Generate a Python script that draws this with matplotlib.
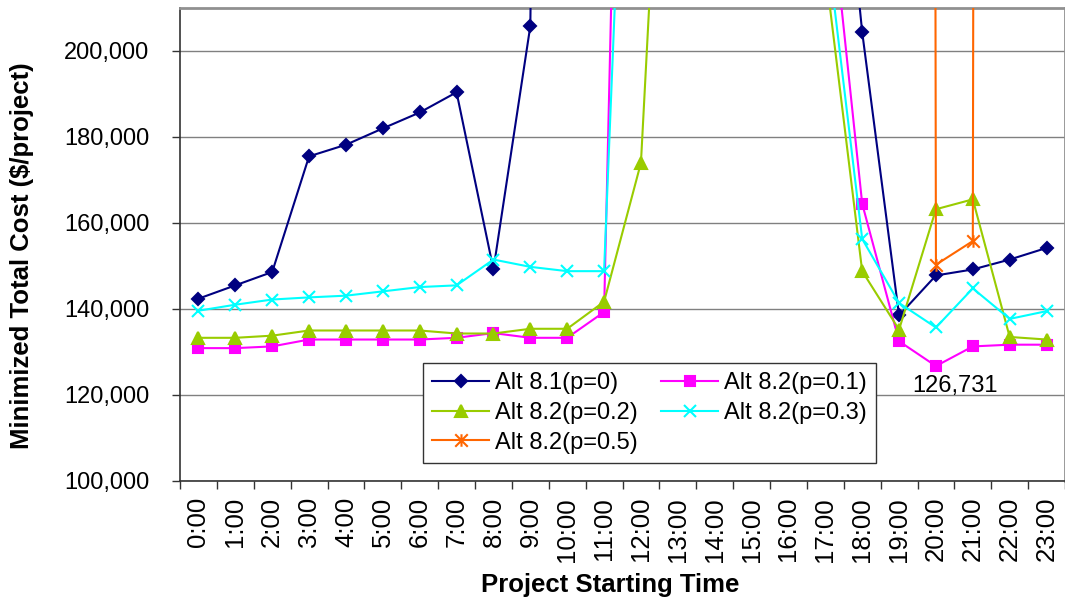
import numpy as np
import matplotlib
matplotlib.use("Agg")
import matplotlib.pyplot as plt
from matplotlib.path import Path
from matplotlib.ticker import FuncFormatter, FixedLocator

plt.rcParams["font.family"] = ["Liberation Sans", "DejaVu Sans"]

hours = [f"{h}:00" for h in range(24)]

# values; points in the 10:00-17:00 band sit far above the
# visible range, so those are rough guesses from the slope of the lines
alt81_p0 = [142400, 145500, 148600, 175500, 178200, 182000, 185700, 190400,
            149200, 205800, 900000, 800000, 700000, 600000, 500000, 400000,
            350000, 290000, 204400, 138500, 147800, 149200, 151500, 154200]
alt82_p01 = [130900, 130900, 131300, 132900, 132900, 132900, 132900, 133300,
             134400, 133300, 133300, 139300, 510000, 500000, 450000, 400000,
             300000, 246000, 164500, 132500, 126731, 131300, 131700, 131700]
alt82_p02 = [133300, 133300, 133800, 135000, 135000, 135000, 135000, 134300,
             134300, 135400, 135400, 141700, 174000, 337000, 400000, 350000,
             300000, 219000, 148800, 135200, 163200, 165500, 133500, 132900]
alt82_p03 = [139600, 141000, 142200, 142700, 143100, 144100, 145100, 145500,
             151500, 149800, 148800, 148800, 361000, 400000, 400000, 350000,
             300000, 228000, 156300, 141400, 135700, 144800, 137700, 139500]
alt82_p05 = [np.nan] * 19 + [5000000, 150300, 155800, 5000000, np.nan]

min_label = 126731

star = Path([(-1, -1), (1, 1), (-1, 1), (1, -1), (0, -1), (0, 1)],
            [Path.MOVETO, Path.LINETO, Path.MOVETO, Path.LINETO, Path.MOVETO, Path.LINETO])

series = [
    ("Alt 8.1(p=0)", alt81_p0, "#000080", "D", 6),
    ("Alt 8.2(p=0.1)", alt82_p01, "#FF00FF", "s", 6.5),
    ("Alt 8.2(p=0.2)", alt82_p02, "#99CC00", "^", 9),
    ("Alt 8.2(p=0.3)", alt82_p03, "#00FFFF", "x", 9),
    ("Alt 8.2(p=0.5)", alt82_p05, "#FF6600", star, 9),
]

fig = plt.figure(figsize=(10.65, 6.04), dpi=100)
ax = fig.add_axes([180 / 1065, 123 / 604, 885 / 1065, 473 / 604])

x = np.arange(len(hours))
handles = []
for label, vals, color, marker, ms in series:
    h, = ax.plot(x, vals, color=color, lw=1.5, marker=marker, markersize=ms,
                 markerfacecolor=color, markeredgecolor=color, markeredgewidth=1.5,
                 label=label, zorder=3)
    handles.append(h)

ax.set_xlim(-0.5, len(hours) - 0.5)
ax.set_ylim(100000, 210000)

ax.set_yticks(np.arange(100000, 200001, 20000))
ax.yaxis.set_major_formatter(FuncFormatter(lambda v, p: f"{int(v):,}"))
ax.tick_params(axis="y", direction="out", length=6, width=1, color="#333333",
               labelsize=17, pad=16)
ax.grid(axis="y", color="#808080", lw=1, zorder=1)

ax.set_xticks(x)
ax.set_xticklabels(hours, rotation=90)
ax.xaxis.set_minor_locator(FixedLocator(np.arange(-0.5, len(hours), 1.0)))
ax.tick_params(axis="x", which="major", length=0, labelsize=18.5, pad=11.5)
ax.tick_params(axis="x", which="minor", direction="out", length=6, width=1, color="#333333")

for s in ["left", "bottom"]:
    ax.spines[s].set_color("#333333")
    ax.spines[s].set_linewidth(1.2)
for s in ["top", "right"]:
    ax.spines[s].set_color("#909090")
    ax.spines[s].set_linewidth(2)

ax.annotate(f"{min_label:,}", xy=(20, min_label), xytext=(14, -14),
            textcoords="offset points", ha="center", va="center", fontsize=17)

order = [0, 2, 4, 1, 3]
leg = ax.legend([handles[i] for i in order], [series[i][0] for i in order],
                ncol=2, loc="lower left", bbox_to_anchor=(0.2746, 0.038),
                borderaxespad=0, fontsize=17, frameon=True, fancybox=False,
                edgecolor="#333333", framealpha=1, numpoints=1,
                handlelength=2.4, handletextpad=0.25, columnspacing=1.0,
                labelspacing=0.32, borderpad=0.4)
leg.get_frame().set_linewidth(1)
leg.set_zorder(5)

fig.text(22 / 1065, 1 - 256 / 604, "Minimized Total Cost ($/project)", rotation=90,
         ha="center", va="center", fontsize=18.5, fontweight="bold")
fig.text(610 / 1065, 1 - 585 / 604, "Project Starting Time",
         ha="center", va="center", fontsize=18.5, fontweight="bold")

fig.savefig("out.png", dpi=100)
